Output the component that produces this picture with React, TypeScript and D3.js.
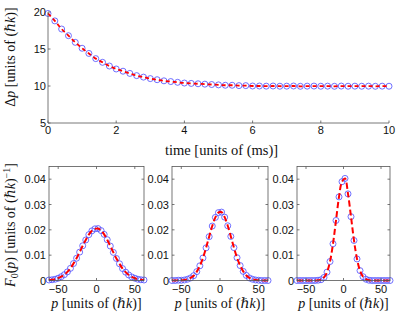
import React from 'react'
import * as d3 from 'd3'

// top panel: momentum width vs time
const times = [0, 0.2, 0.4, 0.6, 0.8, 1, 1.2, 1.4, 1.6, 1.8, 2, 2.2, 2.4, 2.6, 2.8, 3, 3.2, 3.4, 3.6, 3.8, 4,
  4.2, 4.4, 4.6, 4.8, 5, 5.2, 5.4, 5.6, 5.8, 6, 6.2, 6.4, 6.6, 6.8, 7, 7.2, 7.4, 7.6, 7.8, 8,
  8.2, 8.4, 8.6, 8.8, 9, 9.2, 9.4, 9.6, 9.8, 10]
const deltaP = [19.8, 18.8, 17.7, 16.8, 15.9, 15.1, 14.4, 13.7, 13.2, 12.7, 12.3, 12.0, 11.7, 11.4, 11.2, 11.0, 10.85, 10.7, 10.6, 10.5, 10.4,
  10.35, 10.3, 10.25, 10.2, 10.15, 10.1, 10.1, 10.05, 10.05, 10.0, 10.0, 9.98, 10.0, 9.97, 9.98, 10.0, 9.96, 9.98, 9.99, 9.97,
  9.98, 9.96, 9.99, 9.97, 9.98, 9.97, 9.98, 9.96, 9.98, 9.97]
const timeTicks = [0, 2, 4, 6, 8, 10]
const deltaTicks = [5, 10, 15, 20]

// bottom panels: momentum distributions
const momenta = [-62, -58, -54, -50, -46, -42, -38, -34, -30, -26, -22, -18, -14, -10, -6, -2,
  2, 6, 10, 14, 18, 22, 26, 30, 34, 38, 42, 46, 50, 54, 58, 62]
const dist1 = [0.0002, 0.0003, 0.0005, 0.0009, 0.0015, 0.0023, 0.0034, 0.0048, 0.0067, 0.0088, 0.0112, 0.0137, 0.0160, 0.0181, 0.0196, 0.0204,
  0.0205, 0.0197, 0.0182, 0.0161, 0.0136, 0.0111, 0.0087, 0.0066, 0.0047, 0.0033, 0.0022, 0.0014, 0.0009, 0.0005, 0.0003, 0.0002]
const dist2 = [0, 0, 0.0001, 0.0001, 0.0002, 0.0005, 0.0010, 0.0019, 0.0035, 0.0058, 0.0089, 0.0129, 0.0173, 0.0215, 0.0249, 0.0268,
  0.0270, 0.0250, 0.0216, 0.0174, 0.0130, 0.0090, 0.0059, 0.0036, 0.0020, 0.0010, 0.0005, 0.0002, 0.0001, 0, 0, 0]
const dist3 = [0, 0, 0, 0, 0, 0, 0, 0.0001, 0.0003, 0.0012, 0.0033, 0.0075, 0.0145, 0.0237, 0.0330, 0.0390,
  0.0403, 0.0342, 0.0252, 0.0158, 0.0085, 0.0039, 0.0015, 0.0005, 0.0001, 0, 0, 0, 0, 0, 0, 0]
const pTicks = [-50, 0, 50]
const fTicks = [0, 0.01, 0.02, 0.03, 0.04]

const AXIS = '#555'
const BLUE = '#4d4dff'
const RED = '#ff0000'
const SANS = 'Liberation Sans, Arial, sans-serif'
const SERIF = 'Liberation Serif, DejaVu Serif, serif'

const PLANCK = 'ℏ'

function Units() {
  return (
    <>
      <tspan> [units of (</tspan>
      <tspan fontStyle="italic">{PLANCK}k</tspan>
      <tspan>)</tspan>
    </>
  )
}

function Panel({ vals, x0, x1 }: { vals: number[], x0: number, x1: number }) {
  const top = 166.5, bottom = 280.5
  const x = d3.scaleLinear().domain([-62, 62]).range([x0, x1])
  const y = d3.scaleLinear().domain([0, 0.045]).range([bottom, top])
  const pts = momenta.map((p, i) => [p, vals[i]] as [number, number])
  const line = d3.line<[number, number]>().x(d => x(d[0])).y(d => y(d[1])).curve(d3.curveCatmullRom)
  return (
    <g>
      {pts.map((d, i) => (
        <circle key={i} cx={x(d[0])} cy={y(d[1])} r={3} fill="none" stroke={BLUE} strokeWidth={0.8} />
      ))}
      <path d={line(pts) || ''} fill="none" stroke={RED} strokeWidth={2} strokeDasharray="6,3" />
      <rect x={x0} y={top} width={x1 - x0} height={bottom - top} fill="none" stroke={AXIS} strokeWidth={0.8} />
      {pTicks.map(t => (
        <g key={t}>
          <line x1={x(t)} x2={x(t)} y1={bottom} y2={bottom - 2.5} stroke={AXIS} strokeWidth={0.8} />
          <line x1={x(t)} x2={x(t)} y1={top} y2={top + 2.5} stroke={AXIS} strokeWidth={0.8} />
          <text x={x(t)} y={bottom + 12} textAnchor="middle" fontFamily={SANS} fontSize={11} fill="#111">
            {t < 0 ? '\u2212' + Math.abs(t) : t}
          </text>
        </g>
      ))}
      {fTicks.map(t => (
        <g key={t}>
          <line x1={x0} x2={x0 + 2.5} y1={y(t)} y2={y(t)} stroke={AXIS} strokeWidth={0.8} />
          <line x1={x1} x2={x1 - 2.5} y1={y(t)} y2={y(t)} stroke={AXIS} strokeWidth={0.8} />
          <text x={x0 - 3} y={y(t) + 4} textAnchor="end" fontFamily={SANS} fontSize={11} fill="#111">
            {t === 0 ? '0' : t.toFixed(2)}
          </text>
        </g>
      ))}
      <text x={(x0 + x1) / 2} y={308} textAnchor="middle" fontFamily={SERIF} fontSize={14} fill="#111">
        <tspan fontStyle="italic">p</tspan>
        <Units />
        <tspan>]</tspan>
      </text>
    </g>
  )
}

export default function App() {
  const left = 48, right = 389, top = 12, bottom = 123
  const x = d3.scaleLinear().domain([0, 10]).range([left, right])
  const y = d3.scaleLinear().domain([5, 20]).range([bottom, top])
  const pts = times.map((t, i) => [t, deltaP[i]] as [number, number])
  const line = d3.line<[number, number]>().x(d => x(d[0])).y(d => y(d[1])).curve(d3.curveCatmullRom)

  return (
    <svg width={399} height={312} style={{ position: 'absolute', left: 0, top: 0, background: '#fff' }}>
      {/* top panel */}
      {pts.map((d, i) => (
        <circle key={i} cx={x(d[0])} cy={y(d[1])} r={3} fill="none" stroke={BLUE} strokeWidth={0.8} />
      ))}
      <path d={line(pts) || ''} fill="none" stroke={RED} strokeWidth={1.8} strokeDasharray="4,3" />
      <line x1={left} x2={left} y1={top} y2={bottom} stroke={AXIS} strokeWidth={0.8} />
      <line x1={left} x2={right} y1={bottom} y2={bottom} stroke={AXIS} strokeWidth={0.8} />
      {timeTicks.map(t => (
        <g key={t}>
          <line x1={x(t)} x2={x(t)} y1={bottom} y2={bottom - 2.5} stroke={AXIS} strokeWidth={0.8} />
          <text x={x(t)} y={bottom + 11} textAnchor="middle" fontFamily={SANS} fontSize={11} fill="#111">{t}</text>
        </g>
      ))}
      {deltaTicks.map(t => (
        <g key={t}>
          <line x1={left} x2={left + 2.5} y1={y(t)} y2={y(t)} stroke={AXIS} strokeWidth={0.8} />
          <text x={left - 2} y={y(t) + 4} textAnchor="end" fontFamily={SANS} fontSize={11} fill="#111">{t}</text>
        </g>
      ))}
      <text x={(left + right) / 2 + 3} y={155} textAnchor="middle" fontFamily={SERIF} fontSize={14.5} fill="#111">
        time [units of (ms)]
      </text>
      <text transform="translate(15,57) rotate(-90)" textAnchor="middle" fontFamily={SERIF} fontSize={14} fill="#111">
        <tspan>Δ</tspan>
        <tspan fontStyle="italic">p</tspan>
        <Units />
        <tspan>]</tspan>
      </text>

      {/* bottom panels */}
      <Panel vals={dist1} x0={49} x1={144} />
      <Panel vals={dist2} x0={172} x1={268} />
      <Panel vals={dist3} x0={297} x1={390} />
      <text transform="translate(15,225) rotate(-90)" textAnchor="middle" fontFamily={SERIF} fontSize={14} fill="#111">
        <tspan fontStyle="italic">F</tspan>
        <tspan fontSize={10} dy={3}>0</tspan>
        <tspan dy={-3}>(</tspan>
        <tspan fontStyle="italic">p</tspan>
        <tspan>)</tspan>
        <Units />
        <tspan fontSize={10} dy={-5}>−1</tspan>
        <tspan dy={5}>]</tspan>
      </text>
    </svg>
  )
}
